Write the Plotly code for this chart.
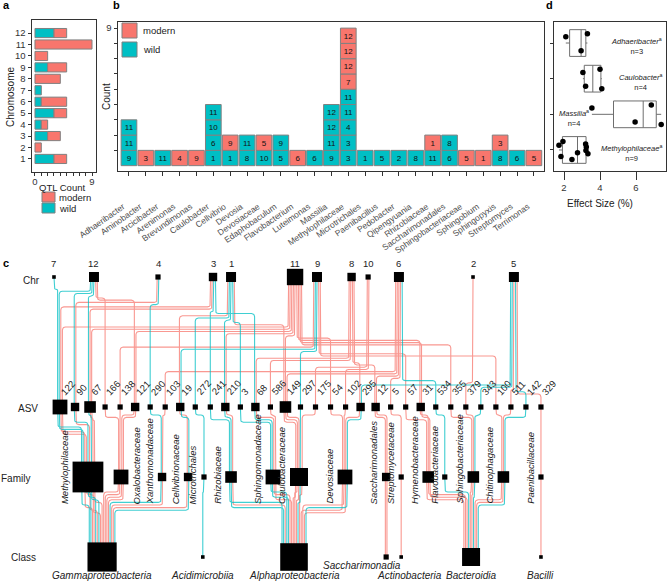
import math
import plotly.graph_objects as go

W, H = 667, 581
RED = "#F8766D"
TEAL = "#00BFC4"
FONT = "Liberation Sans, Arial, Helvetica, sans-serif"

# ---------------- panel a : QTL count per chromosome ----------------
CHROMOSOMES = list(range(1, 13))
QTL_WILD = [3, 0, 2, 1, 3, 1, 1, 0, 2, 0, 0, 3]
QTL_MODERN = [2, 1, 2, 1, 2, 4, 0, 4, 3, 2, 9, 2]

# ---------------- panel b : QTL cells per taxon ----------------
TAXA = ["Adhaeribacter", "Aminobacter", "Arcicibacter", "Arenimonas", "Brevundimonas",
        "Caulobacter", "Cellvibrio", "Devosia", "Devosiaceae", "Edaphobaculum",
        "Flavobacterium", "Luteimonas", "Massilia", "Methylophilaceae", "Microtrichales",
        "Paenibacillus", "Pedobacter", "Qipengyuania", "Rhizobiaceae", "Saccharimonadales",
        "Sphingobacteriaceae", "Sphingobium", "Sphingopyxis", "Streptomyces", "Terrimonas"]
# chromosome of each stacked cell (bottom -> top) and its population (w = wild, m = modern)
TAXON_CHR = [[9, 11, 11], [3], [11], [4], [9], [1, 6, 10, 11], [1, 9], [8, 11], [10, 5],
             [5, 9], [6], [6], [9, 11, 12, 12], [3, 3, 4, 11, 11, 7, 12, 12, 12], [1], [5],
             [2], [8], [11, 1], [6, 8], [5], [1], [8, 3], [6], [5]]
TAXON_POP = ["www", "m", "w", "m", "m", "wwww", "wm", "ww", "wm", "ww", "m", "w", "wwww",
             "wwwwwmmmm", "w", "w", "w", "w", "wm", "ww", "m", "m", "wm", "w", "m"]

# ---------------- panel d : effect sizes ----------------
D_TAXA = ["Methylophilaceae", "Massilia", "Caulobacter", "Adhaeribacter"]
EFF_METHYLOPHILACEAE = [1.72, 1.83, 1.94, 2.44, 2.75, 3.2, 3.22, 3.24, 3.33]
EFF_MASSILIA = [3.55, 5.95, 6.85, 7.4]
EFF_CAULOBACTER = [3.05, 3.2, 4.0, 4.1]
EFF_ADHAERIBACTER = [2.1, 2.95, 3.3]
D_EFFECTS = [EFF_METHYLOPHILACEAE, EFF_MASSILIA, EFF_CAULOBACTER, EFF_ADHAERIBACTER]

# ---------------- panel c : Chr -> ASV -> Family -> Class ----------------
ASVS = [122, 90, 67, 166, 138, 121, 290, 103, 19, 272, 241, 210, 3, 68, 586, 149, 297, 175,
        54, 102, 295, 12, 5, 57, 31, 534, 355, 379, 343, 100, 511, 142, 329]
ASV_FAMILY = ["Methylophilaceae"] * 3 + ["Oxalobacteraceae"] * 3 + ["Xanthomonadaceae"] * 2 + \
    ["Cellvibrionaceae", "Microtrichales"] + ["Rhizobiaceae"] * 2 + ["Sphingomonadaceae"] * 3 + \
    ["Caulobacteraceae"] * 3 + ["Devosiaceae"] * 3 + ["Saccharimonadales", "Streptomycetaceae"] + \
    ["Hymenobacteraceae"] * 2 + ["Flavobacteriaceae"] + ["Sphingobacteriaceae"] * 3 + \
    ["Chitinophagaceae"] * 3 + ["Paenibacillaceae"]
FAMILIES = ["Methylophilaceae", "Oxalobacteraceae", "Xanthomonadaceae", "Cellvibrionaceae",
            "Microtrichales", "Rhizobiaceae", "Sphingomonadaceae", "Caulobacteraceae",
            "Devosiaceae", "Saccharimonadales", "Streptomycetaceae", "Hymenobacteraceae",
            "Flavobacteriaceae", "Sphingobacteriaceae", "Chitinophagaceae", "Paenibacillaceae"]
FAMILY_CLASS = ["Gammaproteobacteria"] * 4 + ["Acidimicrobiia"] + ["Alphaproteobacteria"] * 4 + \
    ["Saccharimonadia", "Actinobacteria"] + ["Bacteroidia"] * 4 + ["Bacilli"]
CLASSES = ["Gammaproteobacteria", "Acidimicrobiia", "Alphaproteobacteria", "Saccharimonadia",
           "Actinobacteria", "Bacteroidia", "Bacilli"]
QTL_CHR_C = [7, 12, 11, 3, 12, 4, 12, 11, 3, 12, 9, 12, 11, 4, 6, 1, 9, 1, 3, 11, 1, 1, 8, 3, 8,
             1, 6, 11, 9, 10, 11, 10, 5, 8, 6, 8, 6, 9, 11, 11, 6, 11, 2, 5, 9, 5, 5, 5]
QTL_POP_C = "wwmmwmwmmmmmmwmmwwwmwwmwmmmmwmmmwmmmmmmmwmmwmmwm"
QTL_ASV_C = [122, 122, 122, 122, 90, 90, 67, 67, 67, 166, 138, 121, 121, 290, 103, 19, 19, 272,
             241, 210, 210, 3, 68, 68, 586, 149, 149, 149, 297, 175, 54, 102, 295, 295, 12, 12,
             5, 57, 31, 31, 534, 355, 379, 343, 100, 511, 142, 329]

# graph layout (positions along the ASV slot grid)
CHR_NODES = [7, 12, 4, 3, 1, 11, 9, 8, 10, 6, 2, 5]
CHR_SLOT = [-0.4, 2.26, 6.52, 10.18, 11.38, 15.64, 17.1, 19.4, 20.5, 22.55, 27.48, 30.2]
FAMILY_SLOT = [1.86, 4.06, 6.79, 8.52, 9.58, 11.38, 14.17, 15.9, 18.96, 21.7, 22.7, 24.5,
               25.6, 27.5, 29.5, 32.0]
CLASS_SLOT = [2.8, 9.5, 15.57, 21.7, 22.7, 27.35, 32.0]


def dom_x(a, b):
    return [a / W, b / W]


def dom_y(top, bottom):
    return [1 - bottom / H, 1 - top / H]


fig = go.Figure()
line_gray = dict(color="#808080", width=1)

# ---- panel a bars ----
fig.add_trace(go.Bar(
    orientation="h", y=[c for c, v in zip(CHROMOSOMES, QTL_WILD) if v],
    x=[v for v in QTL_WILD if v], base=0, width=0.8,
    marker=dict(color=TEAL, line=line_gray), xaxis="x", yaxis="y",
    showlegend=False, hoverinfo="skip"))
fig.add_trace(go.Bar(
    orientation="h", y=[c for c, v in zip(CHROMOSOMES, QTL_MODERN) if v],
    x=[v for v in QTL_MODERN if v],
    base=[w for w, v in zip(QTL_WILD, QTL_MODERN) if v], width=0.8,
    marker=dict(color=RED, line=line_gray), xaxis="x", yaxis="y",
    showlegend=False, hoverinfo="skip"))

# ---- panel b cells ----
for pop, col in (("w", TEAL), ("m", RED)):
    xs, bs, ts = [], [], []
    for taxon, chrs, pops in zip(TAXA, TAXON_CHR, TAXON_POP):
        for lvl, (c, p) in enumerate(zip(chrs, pops)):
            if p == pop:
                xs.append(taxon)
                bs.append(lvl)
                ts.append(str(c))
    fig.add_trace(go.Bar(
        x=xs, y=[1] * len(xs), base=bs, width=0.93, text=ts,
        textposition="inside", insidetextanchor="middle", textangle=0,
        textfont=dict(size=9.5, color="#111", family=FONT),
        marker=dict(color=col, line=line_gray), xaxis="x2", yaxis="y2",
        showlegend=False, hoverinfo="skip"))

# ---- panel d boxes ----
for k, (name, vals) in enumerate(zip(D_TAXA, D_EFFECTS), start=1):
    fig.add_trace(go.Box(
        x=vals, y0=k, orientation="h", width=0.75, boxpoints="all", jitter=0.9,
        pointpos=0, whiskerwidth=0, fillcolor="white",
        line=dict(color="#6e6e6e", width=1),
        marker=dict(color="black", size=5.5), xaxis="x3", yaxis="y3",
        showlegend=False, hoverinfo="skip"))

# ---- panel c network ----
C_X0, C_DX = 60.0, 15.03
Y_CHR, Y_ASV, Y_FAM, Y_CLS = 277, 407, 477, 557
SP = 1.6


def pxc(slot):
    return C_X0 + C_DX * slot


chr_x = {c: pxc(s) for c, s in zip(CHR_NODES, CHR_SLOT)}
asv_x = {a: pxc(i) for i, a in enumerate(ASVS)}
fam_of = dict(zip(ASVS, ASV_FAMILY))
fam_x = {f: pxc(s) for f, s in zip(FAMILIES, FAMILY_SLOT)}
cls_of = dict(zip(FAMILIES, FAMILY_CLASS))
cls_x = {c: pxc(s) for c, s in zip(CLASSES, CLASS_SLOT)}
NE = len(QTL_CHR_C)
E_FAM = [fam_of[a] for a in QTL_ASV_C]
E_CLS = [cls_of[f] for f in E_FAM]


def spread(group, key):
    off = [0.0] * NE
    groups = {}
    for e in range(NE):
        groups.setdefault(group[e], []).append(e)
    for members in groups.values():
        members.sort(key=lambda e: (key(e), e))
        m = len(members)
        for j, e in enumerate(members):
            off[e] = (j - (m - 1) / 2) * SP
    return off


asv_off = spread(QTL_ASV_C, lambda e: chr_x[QTL_CHR_C[e]])
chr_off = spread(QTL_CHR_C, lambda e: asv_x[QTL_ASV_C[e]] + asv_off[e])
fam_off = spread(E_FAM, lambda e: asv_x[QTL_ASV_C[e]] + asv_off[e])
cls_off = spread(E_CLS, lambda e: fam_x[E_FAM[e]] + fam_off[e])

src_a = [chr_x[QTL_CHR_C[e]] + chr_off[e] for e in range(NE)]
dst_a = [asv_x[QTL_ASV_C[e]] + asv_off[e] for e in range(NE)]
dst_b = [fam_x[E_FAM[e]] + fam_off[e] for e in range(NE)]
dst_c = [cls_x[E_CLS[e]] + cls_off[e] for e in range(NE)]

# lanes for chr -> ASV (global)
order_a = sorted(range(NE), key=lambda e: (src_a[e], dst_a[e]))
lane_a = [0.0] * NE
for k, e in enumerate(order_a):
    lane_a[e] = 289 + k * (394 - 289) / (NE - 1)


def nested_lanes(group, src, dst, y0, step):
    lane = [0.0] * NE
    groups = {}
    for e in range(NE):
        side = 1 if dst[e] >= src[e] else -1
        groups.setdefault((group[e], side), []).append(e)
    for members in groups.values():
        members.sort(key=lambda e: abs(dst[e] - src[e]))
        for r, e in enumerate(members):
            lane[e] = y0 + r * step
    return lane


lane_b = nested_lanes(E_FAM, dst_a, dst_b, 415, 2.4)
lane_c = nested_lanes(E_CLS, dst_b, dst_c, 492, 2.6)


def elbow(x0, y0, x1, y1, yl, r=3.0):
    dx = x1 - x0
    if abs(dx) < 0.3:
        return [(x0, y0), (x1, y1)]
    rr = min(r, abs(dx) / 2)
    s = 1 if dx > 0 else -1
    pts = [(x0, y0)]
    cx, cy = x0 + s * rr, yl - rr
    for i in range(6):
        t = i / 5 * math.pi / 2
        pts.append((cx - s * rr * math.cos(t), cy + rr * math.sin(t)))
    cx, cy = x1 - s * rr, yl + rr
    for i in range(6):
        t = i / 5 * math.pi / 2
        pts.append((cx + s * rr * math.sin(t), cy - rr * math.cos(t)))
    pts.append((x1, y1))
    return pts


paths = {"m": ([], []), "w": ([], [])}
for e in range(NE):
    pts = elbow(src_a[e], Y_CHR, dst_a[e], Y_ASV, lane_a[e])
    pts += elbow(dst_a[e], Y_ASV, dst_b[e], Y_FAM, lane_b[e])[1:]
    pts += elbow(dst_b[e], Y_FAM, dst_c[e], Y_CLS, lane_c[e])[1:]
    px_, py_ = paths[QTL_POP_C[e]]
    px_ += [p[0] for p in pts] + [None]
    py_ += [p[1] for p in pts] + [None]

for pop, col in (("m", RED), ("w", TEAL)):
    fig.add_trace(go.Scatter(
        x=paths[pop][0], y=paths[pop][1], mode="lines",
        line=dict(color=col, width=1.1), opacity=0.75,
        xaxis="x4", yaxis="y4", showlegend=False, hoverinfo="skip"))


def count(items, key):
    return [items.count(k) for k in key]


chr_n = count(QTL_CHR_C, CHR_NODES)
asv_n = count(QTL_ASV_C, ASVS)
fam_n = count(E_FAM, FAMILIES)
cls_n = count(E_CLS, CLASSES)

node_sets = [
    ([chr_x[c] for c in CHR_NODES], Y_CHR, [2 + 1.6 * n for n in chr_n]),
    ([asv_x[a] for a in ASVS], Y_ASV, [2 + 3.2 * n for n in asv_n]),
    ([fam_x[f] for f in FAMILIES], Y_FAM, [2 + 3.2 * n for n in fam_n]),
    ([cls_x[c] for c in CLASSES], Y_CLS, [2 + 1.6 * n for n in cls_n]),
]
for xs, y, sizes in node_sets:
    fig.add_trace(go.Scatter(
        x=xs, y=[y] * len(xs), mode="markers",
        marker=dict(symbol="square", color="black", size=sizes, opacity=1,
                    line=dict(width=0)),
        xaxis="x4", yaxis="y4", showlegend=False, hoverinfo="skip"))

ann = []


def txt(x, y, s, size=10, xref="paper", yref="paper", **kw):
    d = dict(x=x, y=y, text=s, xref=xref, yref=yref, showarrow=False,
             xanchor="center", yanchor="middle",
             font=dict(size=size, family=FONT, color=kw.pop("color", "#222")))
    d.update(kw)
    ann.append(d)


# node labels in panel c
for c in CHR_NODES:
    txt(chr_x[c], 263, str(c), 9.5, "x4", "y4")
for a, n in zip(ASVS, asv_n):
    txt(asv_x[a] - 4, 400, str(a), 9.5, "x4", "y4", textangle=-48,
        xanchor="left", yanchor="bottom")
for f, n in zip(FAMILIES, fam_n):
    half = (2 + 3.2 * n) / 2
    if f == "Oxalobacteraceae":
        fx, anc = fam_x[f] + half + 1, "left"
    else:
        fx, anc = fam_x[f] - half - 1, "right"
    txt(fx, 506, "<i>%s</i>" % f, 9.5, "x4", "y4", textangle=-90,
        xanchor=anc, yanchor="bottom")
CLASS_NUDGE = {"Saccharimonadia": (-24, -10), "Actinobacteria": (8, 0)}
for c in CLASSES:
    dx, dy = CLASS_NUDGE.get(c, (0, 0))
    txt(cls_x[c] + dx, 575 + dy, "<i>%s</i>" % c, 10, "x4", "y4")

for lab, x, y in (("Chr", 31, 280), ("ASV", 28, 409), ("Family", 15, 478), ("Class", 24, 557)):
    txt(x / W, 1 - y / H, lab, 10)

# panel letters
for lab, x, y in (("a", 1, 5), ("b", 111, 5), ("c", 1, 263), ("d", 544, 5)):
    txt(x / W, 1 - y / H, "<b>%s</b>" % lab, 11, xanchor="left", color="black")

# axis titles
txt(10 / W, 1 - 97 / H, "Chromosome", 10, textangle=-90)
txt(62 / W, 1 - 187 / H, "QTL Count", 9.5)
txt(106 / W, 1 - 97 / H, "Count", 10, textangle=-90)
txt(600 / W, 1 - 203 / H, "Effect Size (%)", 10)

# panel d labels
D_LABELS = {"Adhaeribacter": "n=3", "Caulobacter": "n=4", "Massilia": "n=4",
            "Methylophilaceae": "n=9"}
for k, name in enumerate(D_TAXA, start=1):
    s = "<i>%s</i><sup>a</sup><br>%s" % (name, D_LABELS[name])
    if name == "Massilia":
        txt(1.6, k, s, 7.5, "x3", "y3", xanchor="left", yshift=-4)
    else:
        txt(7.55, k, s, 7.5, "x3", "y3", xanchor="right", yshift=-3)

# legends drawn as keys
shapes = []


def key(x0, y0, x1, y1, col, label, tx, size):
    shapes.append(dict(type="rect", xref="paper", yref="paper", x0=x0 / W, x1=x1 / W,
                       y0=1 - y1 / H, y1=1 - y0 / H, fillcolor=col,
                       line=dict(color="#808080", width=1)))
    txt(tx / W, 1 - (y0 + y1) / 2 / H, label, size, xanchor="left")


key(122, 23, 137, 38, RED, "modern", 141, 9.5)
key(122, 42, 137, 57, TEAL, "wild", 141, 9.5)
key(42, 192, 55, 202, RED, "modern", 57, 9.5)
key(42, 203, 55, 213, TEAL, "wild", 57, 9.5)

frame = dict(showline=True, mirror=True, linecolor="#333", linewidth=1, showgrid=False,
             zeroline=False, ticks="outside", tickcolor="#333", ticklen=3.5,
             automargin=False,
             tickfont=dict(size=9.5, color="#333", family=FONT))

fig.update_layout(
    template="none",
    width=W, height=H, margin=dict(l=0, r=0, t=0, b=0, pad=0), autosize=False,
    paper_bgcolor="white", plot_bgcolor="white", barmode="overlay",
    font=dict(family=FONT, color="#222"),
    xaxis=dict(frame, domain=dom_x(32, 96), range=[-0.47, 9.63], anchor="y",
               tickvals=list(range(10)), ticktext=["0"] + [""] * 8 + ["9"], ticklen=3,
               ticklabelstandoff=-2),
    yaxis=dict(frame, domain=dom_y(20, 172), range=[-0.14, 13.14], anchor="x",
               tickvals=CHROMOSOMES),
    xaxis2=dict(frame, domain=dom_x(118, 544), range=[-0.65, 24.6], anchor="y2",
                type="category", categoryorder="array", categoryarray=TAXA,
                tickangle=-35, ticklabelstandoff=23, ticklabelshift=-6,
                tickfont=dict(size=8.5, color="#4d4d4d", family=FONT)),
    yaxis2=dict(frame, domain=dom_y(22, 171), range=[-0.35, 9.4], anchor="x2",
                tickvals=list(range(1, 10)), ticktext=[""] * 8 + ["9"]),
    xaxis3=dict(frame, domain=dom_x(554, 666), range=[1.444, 7.667], anchor="y3",
                tickvals=[2, 4, 6], ticklen=8),
    yaxis3=dict(frame, domain=dom_y(22, 171), range=[0.41, 4.59], anchor="x3",
                tickvals=[1, 2, 3, 4], ticktext=[""] * 4),
    xaxis4=dict(domain=[0, 1], range=[0, W], visible=False, anchor="y4",
                automargin=False),
    yaxis4=dict(domain=dom_y(240, 581), range=[581, 240], visible=False, anchor="x4",
                automargin=False),
    annotations=ann, shapes=shapes,
    uniformtext=dict(minsize=8, mode="show"),
)

fig.write_html("out.html", config={"displayModeBar": False},
               post_script="document.body.style.margin='0';")
